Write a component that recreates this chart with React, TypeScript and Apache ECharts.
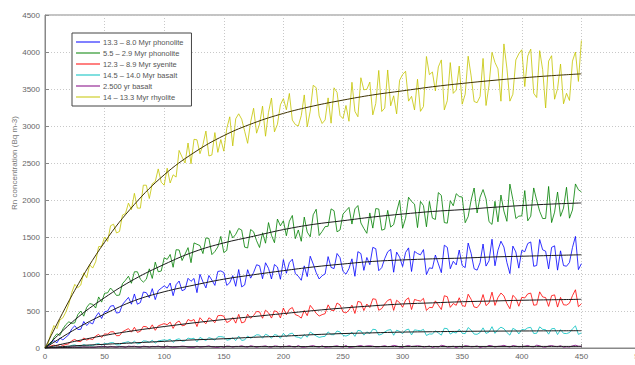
import React, { useEffect, useRef } from "react";
import * as echarts from "echarts";

const seriesNames = [
  "13.3 – 8.0 Myr phonolite",
  "5.5 – 2.9 Myr phonolite",
  "12.3 – 8.9 Myr syenite",
  "14.5 – 14.0 Myr basalt",
  "2.500 yr basalt",
  "14 – 13.3 Myr rhyolite",
];
const seriesColors = ["#0000ff", "#008000", "#ff0000", "#00bfbf", "#800080", "#c4c400"];

const hours = [
  0, 5, 10, 15, 20, 25, 30, 35, 40, 45, 50, 55, 60, 65, 70, 75, 80, 85, 90, 95,
  100, 105, 110, 115, 120, 125, 130, 135, 140, 145, 150, 155, 160, 165, 170, 175, 180, 185, 190, 195,
  200, 205, 210, 215, 220, 225, 230, 235, 240, 245, 250, 255, 260, 265, 270, 275, 280, 285, 290, 295,
  300, 305, 310, 315, 320, 325, 330, 335, 340, 345, 350, 355, 360, 365, 370, 375, 380, 385, 390, 395,
  400, 405, 410, 415, 420, 425, 430, 435, 440, 445, 450,
];
const hoursMid = [
  2.5, 7.5, 12.5, 17.5, 22.5, 27.5, 32.5, 37.5, 42.5, 47.5, 52.5, 57.5, 62.5, 67.5, 72.5, 77.5, 82.5, 87.5, 92.5, 97.5,
  102.5, 107.5, 112.5, 117.5, 122.5, 127.5, 132.5, 137.5, 142.5, 147.5, 152.5, 157.5, 162.5, 167.5, 172.5, 177.5, 182.5, 187.5, 192.5, 197.5,
  202.5, 207.5, 212.5, 217.5, 222.5, 227.5, 232.5, 237.5, 242.5, 247.5, 252.5, 257.5, 262.5, 267.5, 272.5, 277.5, 282.5, 287.5, 292.5, 297.5,
  302.5, 307.5, 312.5, 317.5, 322.5, 327.5, 332.5, 337.5, 342.5, 347.5, 352.5, 357.5, 362.5, 367.5, 372.5, 377.5, 382.5, 387.5, 392.5, 397.5,
  402.5, 407.5, 412.5, 417.5, 422.5, 427.5, 432.5, 437.5, 442.5, 447.5,
];

const phonoliteOld = [
  3, 70, 70, 110, 180, 300, 252, 304, 326, 478, 490, 566, 472, 588, 684, 730, 614, 748, 802, 776,
  840, 878, 856, 774, 942, 940, 996, 812, 918, 1034, 1020, 882, 834, 826, 1058, 1020, 1111, 1152, 933, 1094,
  1195, 1155, 1005, 915, 965, 1135, 933, 1001, 1089, 1277, 1035, 1072, 969, 1276, 1223, 1360, 1044, 1208, 1332, 1296,
  1100, 1353, 1306, 1259, 992, 1075, 1137, 1389, 1071, 1123, 1115, 1418, 1071, 1154, 1107, 1470, 1322, 1364, 1006, 1298,
  1320, 1412, 1104, 1466, 1308, 1360, 1052, 1114, 1156, 1508, 1140,
];
const phonoliteOldMid = [
  20, 100, 135, 145, 260, 251, 358, 345, 422, 399, 498, 574, 480, 636, 592, 592, 756, 680, 654, 808,
  809, 707, 905, 793, 901, 748, 894, 980, 846, 1042, 846, 978, 1060, 852, 944, 1125, 936, 1077, 1128, 929,
  1010, 1200, 970, 1110, 1240, 1019, 977, 1235, 1073, 1221, 998, 1205, 1302, 1049, 1126, 1342, 1086, 1300, 1024, 1228,
  1291, 1034, 1277, 1330, 1083, 1256, 1018, 1360, 1172, 1324, 1086, 1279, 1052, 1405, 1178, 1111, 1443, 1155, 1377, 1079,
  1301, 1433, 1115, 1327, 1069, 1381, 1313, 1105, 1357, 1059,
];
const phonoliteYoung = [
  5, 56, 192, 258, 354, 340, 500, 550, 590, 690, 740, 810, 710, 870, 970, 1030, 930, 930, 940, 1030,
  1220, 1264, 1328, 1182, 1356, 1420, 1384, 1488, 1262, 1366, 1290, 1588, 1536, 1594, 1352, 1570, 1358, 1416, 1524, 1742,
  1720, 1714, 1478, 1442, 1566, 1800, 1520, 1640, 1880, 1570, 1810, 1900, 1880, 1690, 1550, 1620, 1878, 1606, 1634, 1842,
  1620, 2037, 1944, 1981, 1638, 1755, 2100, 1695, 1990, 2085, 2040, 1776, 2162, 2038, 2014, 1670, 1705, 1850, 2215, 1750,
  1785, 1719, 2163, 1847, 1751, 1695, 2108, 1891, 1754, 2217, 2110,
];
const phonoliteYoungMid = [
  48, 144, 170, 316, 332, 450, 430, 600, 540, 620, 745, 765, 715, 915, 875, 1030, 890, 1070, 1160, 1040,
  1197, 1091, 1325, 1269, 1153, 1402, 1276, 1480, 1304, 1508, 1319, 1487, 1615, 1363, 1601, 1449, 1557, 1695, 1423, 1651,
  1517, 1791, 1595, 1769, 1503, 1875, 1575, 1645, 1855, 1595, 1855, 1675, 1925, 1615, 1825, 1884, 1592, 1860, 1668, 1996,
  1753, 1980, 1627, 1924, 1981, 1737, 2062, 1687, 1922, 2047, 1693, 1999, 1825, 2141, 1707, 1982, 2067, 1712, 2007, 1782,
  2127, 1781, 1995, 1749, 2183, 1836, 1779, 2172, 1865, 2138,
];
const syenite = [
  2, 28, 24, 34, 57, 115, 86, 107, 113, 184, 190, 218, 166, 219, 262, 280, 226, 287, 313, 299,
  330, 350, 340, 300, 385, 385, 409, 328, 382, 436, 430, 363, 336, 339, 457, 440, 488, 511, 404, 487,
  540, 523, 451, 404, 437, 525, 432, 464, 511, 608, 490, 511, 467, 618, 594, 665, 510, 595, 660, 645,
  550, 678, 656, 634, 507, 545, 578, 706, 549, 577, 575, 727, 554, 596, 573, 755, 682, 704, 531, 673,
  685, 731, 578, 759, 681, 707, 553, 584, 606, 787, 598,
];
const syeniteMid = [
  6, 39, 50, 48, 99, 90, 136, 125, 161, 142, 187, 220, 168, 241, 214, 211, 292, 253, 239, 315,
  315, 265, 365, 310, 365, 290, 364, 408, 342, 441, 344, 412, 455, 353, 401, 494, 402, 475, 503, 406,
  449, 547, 435, 508, 576, 469, 451, 583, 505, 582, 473, 579, 630, 506, 547, 658, 533, 643, 508, 613,
  647, 520, 643, 671, 549, 637, 520, 693, 601, 679, 561, 658, 545, 722, 609, 576, 743, 600, 712, 564,
  676, 742, 584, 690, 562, 718, 684, 580, 707, 558,
];
const basaltOld = [
  1, 12, 7, 8, 16, 42, 24, 30, 30, 61, 60, 72, 43, 67, 86, 92, 64, 93, 104, 96,
  110, 119, 113, 92, 134, 132, 143, 101, 127, 152, 147, 114, 101, 102, 161, 153, 176, 186, 132, 172,
  198, 189, 153, 130, 146, 190, 143, 158, 181, 230, 170, 179, 157, 231, 218, 253, 175, 217, 249, 241,
  193, 256, 245, 233, 169, 188, 203, 267, 188, 202, 200, 276, 188, 209, 197, 288, 250, 261, 174, 245,
  250, 272, 196, 286, 247, 260, 182, 198, 208, 299, 204,
];
const basaltOldMid = [
  2, 15, 18, 14, 36, 28, 47, 37, 52, 38, 57, 71, 42, 76, 60, 57, 96, 75, 66, 103,
  102, 76, 125, 96, 123, 84, 120, 140, 106, 154, 105, 139, 160, 109, 133, 179, 132, 168, 181, 131,
  152, 201, 145, 182, 216, 162, 153, 218, 179, 216, 161, 213, 238, 174, 194, 248, 186, 240, 172, 224,
  241, 177, 238, 251, 190, 233, 174, 261, 214, 253, 194, 241, 185, 272, 216, 198, 281, 209, 265, 190,
  245, 279, 199, 252, 187, 264, 248, 195, 259, 184,
];
const basaltYoung = [
  2, 8, 4, 6, 6, 15, 9, 10, 8, 20, 24, 22, 10, 19, 25, 24, 9, 20, 22, 26,
  10, 14, 13, 25, 11, 9, 12, 21, 15, 8, 10, 24, 22, 30, 12, 22, 20, 29, 11, 25,
  22, 31, 13, 12, 17, 32, 12, 10, 15, 30, 13, 9, 18, 33, 28, 25, 16, 31, 22, 28,
  11, 34, 25, 26, 18, 8, 13, 29, 16, 5, 12, 27, 19, 7, 14, 28, 23, 36, 13, 26,
  20, 34, 15, 30, 12, 33, 18, 11, 14, 37, 22,
];
const basaltYoungMid = [
  5, 3, 11, 9, 13, 7, 16, 12, 10, 18, 9, 15, 20, 8, 21, 14, 25, 11, 18, 13,
  27, 10, 19, 22, 9, 24, 16, 29, 11, 20, 26, 12, 21, 17, 31, 10, 23, 15, 28, 13,
  22, 18, 33, 11, 26, 19, 30, 14, 24, 17, 34, 12, 27, 20, 31, 15, 23, 18, 35, 13,
  25, 21, 30, 14, 27, 19, 36, 12, 24, 22, 32, 15, 28, 18, 35, 13, 26, 21, 33, 16,
  25, 19, 38, 14, 27, 22, 31, 17, 29, 24,
];
const rhyolite = [
  10, 196, 262, 408, 594, 860, 850, 950, 1080, 1370, 1500, 1652, 1554, 1796, 1958, 2090, 1890, 2200, 2220, 2420,
  2200, 2230, 2310, 2580, 2770, 2820, 2626, 2932, 2608, 2644, 2660, 3124, 3098, 3092, 2766, 3240, 3026, 2862, 3378, 3024,
  3370, 3440, 3020, 3140, 2990, 3550, 3136, 3082, 3038, 3454, 3100, 3064, 3198, 3652, 3496, 3150, 3751, 3242, 3273, 3164,
  3695, 3336, 3217, 3198, 3939, 3730, 3799, 3218, 3857, 3486, 3295, 3943, 3331, 3399, 3277, 3995, 3772, 4109, 3336, 3893,
  4030, 3946, 3442, 4018, 3244, 3950, 3505, 3300, 3345, 4000, 4155,
];
const rhyoliteMid = [
  58, 304, 380, 486, 752, 815, 1015, 1125, 1165, 1375, 1441, 1673, 1575, 1817, 1869, 1890, 2200, 2020, 2250, 2240,
  2430, 2340, 2670, 2500, 2490, 2813, 2749, 2595, 2911, 2817, 2967, 2731, 3165, 2929, 3053, 2903, 3269, 3185, 2921, 3287,
  3220, 3080, 3000, 3420, 3200, 3518, 3034, 3380, 3516, 3142, 3277, 3591, 3125, 3489, 3593, 3305, 3196, 3757, 3408, 3619,
  3740, 3401, 3632, 3263, 3694, 3474, 3893, 3342, 3441, 3810, 3429, 3677, 3315, 3913, 3551, 3858, 3335, 3782, 3429, 3976,
  3533, 4039, 3385, 3761, 3877, 3362, 3837, 3442, 3877, 3602,
];

const fitHours = [0, 25, 50, 75, 100, 125, 150, 175, 200, 225, 250, 275, 300, 325, 350, 375, 400, 425, 450];
const fitPhonoliteOld = [0, 250, 460, 640, 760, 850, 930, 990, 1045, 1095, 1135, 1170, 1190, 1205, 1215, 1230, 1240, 1250, 1260];
const fitPhonoliteYoung = [0, 380, 680, 930, 1130, 1300, 1420, 1510, 1600, 1670, 1720, 1770, 1810, 1845, 1870, 1900, 1925, 1945, 1960];
const fitSyenite = [0, 90, 170, 235, 290, 340, 385, 425, 465, 505, 540, 570, 595, 610, 625, 635, 645, 652, 658];
const fitBasaltOld = [0, 30, 50, 70, 90, 110, 125, 145, 160, 180, 195, 205, 215, 220, 225, 228, 230, 232, 234];
const fitBasaltYoung = [0, 10, 14, 16, 17, 17.5, 18, 18.5, 19, 19.5, 20, 20, 20.5, 20.5, 21, 21, 21, 21.5, 21.5];
const fitRhyolite = [0, 780, 1430, 1940, 2340, 2640, 2870, 3040, 3170, 3270, 3350, 3420, 3475, 3530, 3575, 3615, 3650, 3680, 3705];

const xTicks = { min: 0, max: 500, interval: 50 };
const yTicks = { min: 0, max: 4500, interval: 500 };

export default function App() {
  const ref = useRef<HTMLDivElement>(null);
  useEffect(() => {
    if (!ref.current) return;
    const chart = echarts.init(ref.current, null, { renderer: "svg" });
    const raw = [phonoliteOld, phonoliteYoung, syenite, basaltOld, basaltYoung, rhyolite];
    const rawMid = [phonoliteOldMid, phonoliteYoungMid, syeniteMid, basaltOldMid, basaltYoungMid, rhyoliteMid];
    const fits = [fitPhonoliteOld, fitPhonoliteYoung, fitSyenite, fitBasaltOld, fitBasaltYoung, fitRhyolite];
    const font = "Liberation Sans, Arial, sans-serif";
    const noisy = raw.map((vals, i) => {
      const pts: number[][] = [];
      vals.forEach((v, j) => {
        pts.push([hours[j], v]);
        if (j < hoursMid.length) pts.push([hoursMid[j], rawMid[i][j]]);
      });
      return {
        name: seriesNames[i],
        type: "line",
        showSymbol: false,
        symbol: "none",
        data: pts,
        lineStyle: { width: 1, color: seriesColors[i], opacity: 0.8 },
        itemStyle: { color: seriesColors[i] },
        z: 2,
      };
    });
    const fitted = fits.map((vals, i) => ({
      name: "fit" + i,
      type: "line",
      showSymbol: false,
      symbol: "none",
      smooth: 0.4,
      data: vals.map((v, j) => [fitHours[j], v]),
      lineStyle: { width: 1, color: i === 5 ? "#3d3000" : "#1a1a1a" },
      z: 3,
    }));
    chart.setOption({
      animation: false,
      backgroundColor: "#ffffff",
      grid: {
        left: 45,
        top: 15,
        right: 0,
        bottom: 17,
        outerBoundsMode: "none",
        containLabel: false,
        show: true,
        borderColor: "#888",
        borderWidth: 1,
        backgroundColor: "transparent",
      },
      legend: {
        data: seriesNames,
        orient: "vertical",
        left: 72,
        top: 33,
        itemWidth: 24,
        itemHeight: 1,
        itemGap: 3,
        icon: "rect",
        padding: [5, 8, 5, 4],
        backgroundColor: "#fff",
        borderColor: "#444",
        borderWidth: 1,
        textStyle: { fontSize: 7.5, color: "#555", fontFamily: font, padding: [0, 0, 0, -2] },
      },
      xAxis: {
        type: "value",
        ...xTicks,
        name: "Time (h)",
        nameLocation: "middle",
        nameGap: 13,
        nameTextStyle: { fontSize: 8, color: "#666", fontFamily: font },
        axisLine: { show: true, lineStyle: { color: "#888" } },
        axisTick: { show: true, inside: true, length: 4, lineStyle: { color: "#888" } },
        axisLabel: { fontSize: 8, color: "#666", fontFamily: font, margin: 4 },
        splitLine: { show: true, lineStyle: { type: [1, 2], color: "#c8c8c8" } },
      },
      yAxis: {
        type: "value",
        ...yTicks,
        axisLine: { show: true, lineStyle: { color: "#888" } },
        axisTick: { show: true, inside: true, length: 4, lineStyle: { color: "#888" } },
        axisLabel: { fontSize: 8, color: "#666", fontFamily: font, margin: 5, formatter: (v: number) => String(v) },
        splitLine: { show: true, lineStyle: { type: [1, 2], color: "#c8c8c8" } },
      },
      graphic: [
        {
          type: "text",
          x: 14,
          y: 163,
          rotation: Math.PI / 2,
          style: {
            text: "Rn concentration (Bq m-3)",
            fontSize: 8,
            fill: "#777",
            fontFamily: font,
            textAlign: "center",
            textVerticalAlign: "middle",
          },
        },
      ],
      series: [...noisy, ...fitted],
    });
    return () => chart.dispose();
  }, []);
  return (
    <div
      ref={ref}
      style={{ position: "fixed", left: 0, top: 0, width: 641, height: 365, overflow: "hidden" }}
    />
  );
}
